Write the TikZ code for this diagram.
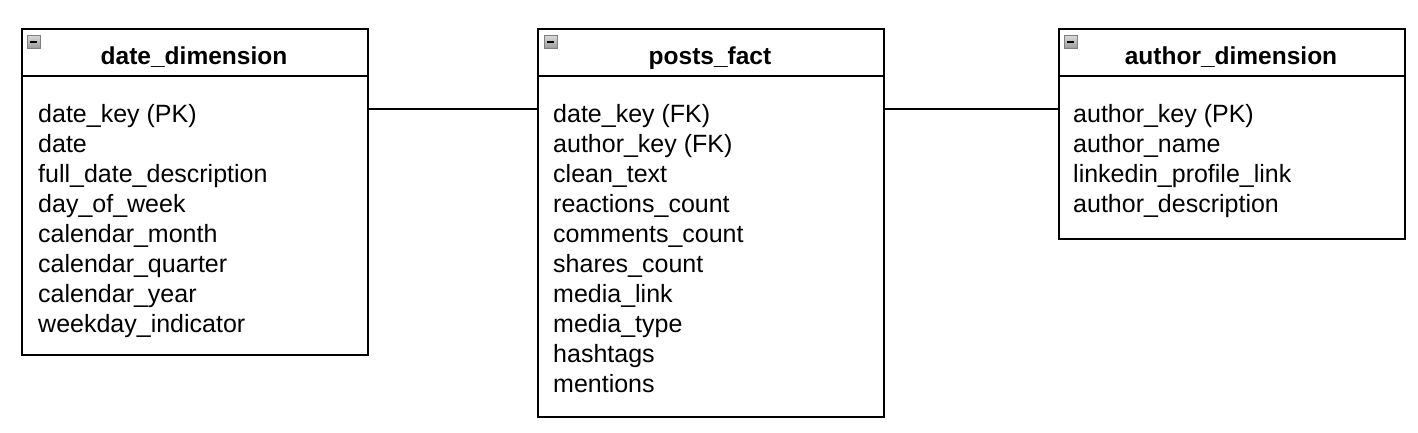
\documentclass[tikz,border=0pt]{standalone}
\usepackage{fontspec}
\setmainfont{Liberation Sans}
\begin{document}
\begin{tikzpicture}[x=1pt,y=-1pt,
  table/.style={draw=black, line width=1.5pt, fill=white, anchor=north west, inner sep=0pt, minimum width=346pt},
  sep/.style={draw=black, line width=1.5pt},
  title/.style={font=\fontsize{24.5}{30}\selectfont\bfseries, anchor=base, inner sep=0pt},
  field/.style={font=\fontsize{25}{30}\selectfont, anchor=base west, inner sep=0pt},
  conn/.style={draw=black, line width=1.5pt},
  collapse/.pic={
    \draw[draw=black!50, line width=1pt, top color=black!15, bottom color=black!40] (0,0) rectangle (13,13);
    \draw[line width=2.4pt, black] (3,6.5) -- (10,6.5);
  }
]
\useasboundingbox (0,0) rectangle (1418,432);

% date_dimension
\node[table, minimum height=326pt] (date) at (21,28) {};
\draw[sep] ([yshift=-48pt]date.north west) -- ([yshift=-48pt]date.north east);
\pic at (27,35.5) {collapse};
\node[title] (datet) at (194,64) {date\_dimension};
\foreach \t [count=\i from 0] in {date\_key (PK), date, full\_date\_description, day\_of\_week, calendar\_month, calendar\_quarter, calendar\_year, weekday\_indicator}
  \node[field] (df\i) at (38,122.5+30*\i) {\t};

% posts_fact
\node[table, minimum height=388pt] (posts) at (537,28) {};
\draw[sep] ([yshift=-48pt]posts.north west) -- ([yshift=-48pt]posts.north east);
\pic at (544,35.5) {collapse};
\node[title] (postst) at (710,64) {posts\_fact};
\foreach \t [count=\i from 0] in {date\_key (FK), author\_key (FK), clean\_text, reactions\_count, comments\_count, shares\_count, media\_link, media\_type, hashtags, mentions}
  \node[field] (pf\i) at (553,122.5+30*\i) {\t};

% author_dimension
\node[table, minimum height=210pt] (author) at (1058,28) {};
\draw[sep] ([yshift=-48pt]author.north west) -- ([yshift=-48pt]author.north east);
\pic at (1064,35.5) {collapse};
\node[title] (authort) at (1231,64) {author\_dimension};
\foreach \t [count=\i from 0] in {author\_key (PK), author\_name, linkedin\_profile\_link, author\_description}
  \node[field] (af\i) at (1073,122.5+30*\i) {\t};

% connectors
\draw[conn] ([yshift=-81pt]date.north east) -- ([yshift=-81pt]posts.north west);
\draw[conn] ([yshift=-81pt]posts.north east) -- ([yshift=-81pt]author.north west);
\end{tikzpicture}
\end{document}
